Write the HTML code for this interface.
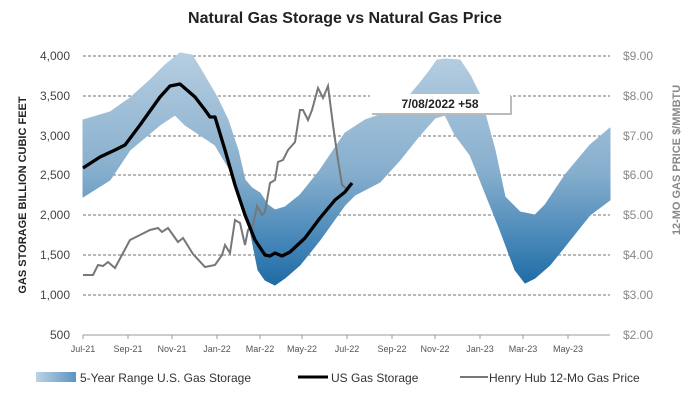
<!DOCTYPE html>
<html><head><meta charset="utf-8"><style>
body{margin:0;background:#fff;}
svg{display:block;font-family:"Liberation Sans",sans-serif;}
</style></head><body>
<svg width="691" height="400" viewBox="0 0 691 400" xmlns="http://www.w3.org/2000/svg">
<defs>
<linearGradient id="g" x1="0" y1="56" x2="0" y2="290" gradientUnits="userSpaceOnUse">
<stop offset="0" stop-color="#b5cde0"/>
<stop offset="0.5" stop-color="#86aecd"/>
<stop offset="0.78" stop-color="#4888b9"/>
<stop offset="1" stop-color="#1a68a3"/>
</linearGradient>
<linearGradient id="lg" x1="0" y1="0" x2="1" y2="0">
<stop offset="0" stop-color="#bcd3e4"/><stop offset="1" stop-color="#5a95c2"/>
</linearGradient>
</defs>
<text x="345" y="23" text-anchor="middle" font-size="16" font-weight="bold" fill="#222">Natural Gas Storage vs Natural Gas Price</text>
<g stroke="#444" stroke-dasharray="3,2" stroke-width="0.8">
<line x1="83" x2="610" y1="56" y2="56"/><line x1="83" x2="610" y1="96" y2="96"/>
<line x1="83" x2="610" y1="136" y2="136"/><line x1="83" x2="610" y1="175" y2="175"/>
<line x1="83" x2="610" y1="215" y2="215"/><line x1="83" x2="610" y1="255" y2="255"/>
<line x1="83" x2="610" y1="295" y2="295"/>
</g>
<path fill="url(#g)" stroke="url(#g)" stroke-width="1" stroke-linejoin="round" d="M83,120 L110,112 L130,98 L150,80 L165,65 L180,53 L192,55 L200,68 L210,85 L217,97 L228,120 L238,150 L245,180 L252,188 L260,193 L268,205 L275,210 L285,207 L300,195 L320,170 L345,133 L365,120 L385,113 L400,105 L410,95 L420,83 L430,70 L437,60 L445,59 L460,60 L470,75 L480,95 L495,150 L505,197 L520,212 L535,215 L545,205 L565,175 L590,145 L610,128 L610,200 L590,215 L570,240 L550,265 L535,278 L525,283 L515,270 L500,230 L480,180 L470,155 L455,135 L445,115 L435,118 L420,135 L400,160 L380,182 L355,195 L345,205 L320,240 L300,265 L285,278 L275,285 L265,280 L258,270 L250,230 L240,195 L230,170 L215,145 L200,135 L185,125 L175,115 L160,125 L130,150 L110,180 L83,197 Z"/>
<polyline fill="none" stroke="#777" stroke-width="2" points="83,275 93,275 98,265 103,266 108,262 115,268 123,253 130,240 140,235 150,230 158,228 162,232 168,228 178,242 183,238 193,254 205,267 215,265 222,255 225,245 230,253 235,220 240,223 245,245 248,230 253,225 257,206 262,215 265,212 270,183 275,180 278,162 283,160 288,150 295,142 300,110 303,110 308,120 312,110 318,88 323,98 328,86 333,125 338,160 342,185 348,190"/>
<polyline fill="none" stroke="#000" stroke-width="3.3" stroke-linejoin="round" points="83,168 100,157 115,150 125,145 140,125 160,97 170,86 180,84 195,97 205,110 210,117 215,117 225,150 235,185 245,215 255,240 265,255 270,256 275,253 282,256 290,252 305,238 320,218 335,200 345,192 352,183"/>
<line x1="83" x2="610" y1="335" y2="335" stroke="#999" stroke-width="1"/>
<g stroke="#999"><line x1="83" x2="83" y1="335" y2="339"/><line x1="128" x2="128" y1="335" y2="339"/><line x1="172" x2="172" y1="335" y2="339"/><line x1="217" x2="217" y1="335" y2="339"/><line x1="260" x2="260" y1="335" y2="339"/><line x1="302" x2="302" y1="335" y2="339"/><line x1="347" x2="347" y1="335" y2="339"/><line x1="392" x2="392" y1="335" y2="339"/><line x1="435" x2="435" y1="335" y2="339"/><line x1="480" x2="480" y1="335" y2="339"/><line x1="523" x2="523" y1="335" y2="339"/><line x1="568" x2="568" y1="335" y2="339"/></g>
<g font-size="9" fill="#555" text-anchor="middle">
<text x="83" y="352">Jul-21</text><text x="128" y="352">Sep-21</text><text x="172" y="352">Nov-21</text><text x="217" y="352">Jan-22</text><text x="260" y="352">Mar-22</text><text x="302" y="352">May-22</text><text x="347" y="352">Jul-22</text><text x="392" y="352">Sep-22</text><text x="435" y="352">Nov-22</text><text x="480" y="352">Jan-23</text><text x="523" y="352">Mar-23</text><text x="568" y="352">May-23</text>
</g>
<g font-size="12" fill="#444" text-anchor="end">
<text x="70" y="60">4,000</text><text x="70" y="100">3,500</text><text x="70" y="140">3,000</text><text x="70" y="179">2,500</text><text x="70" y="219">2,000</text><text x="70" y="259">1,500</text><text x="70" y="299">1,000</text><text x="70" y="339">500</text>
</g>
<g font-size="12" fill="#888">
<text x="623" y="60">$9.00</text><text x="623" y="100">$8.00</text><text x="623" y="140">$7.00</text><text x="623" y="179">$6.00</text><text x="623" y="219">$5.00</text><text x="623" y="259">$4.00</text><text x="623" y="299">$3.00</text><text x="623" y="339">$2.00</text>
</g>
<text transform="translate(26,195) rotate(-90)" text-anchor="middle" font-size="11" font-weight="bold" fill="#222">GAS STORAGE BILLION CUBIC FEET</text>
<text transform="translate(680,160) rotate(-90)" text-anchor="middle" font-size="11" font-weight="bold" fill="#888">12-MO GAS PRICE $/MMBTU</text>
<rect x="372" y="96" width="140" height="19" fill="#bbb"/>
<rect x="370" y="94" width="140" height="19" fill="#fff"/>
<text x="440" y="108" text-anchor="middle" font-size="12" font-weight="bold" fill="#222">7/08/2022  +58</text>
<rect x="36" y="372" width="40" height="10" fill="url(#lg)"/>
<text x="80" y="382" font-size="12" fill="#333">5-Year Range U.S. Gas Storage</text>
<line x1="298" x2="328" y1="377" y2="377" stroke="#000" stroke-width="3"/>
<text x="331" y="382" font-size="12" fill="#333">US Gas Storage</text>
<line x1="460" x2="488" y1="377" y2="377" stroke="#777" stroke-width="2"/>
<text x="489" y="382" font-size="12" fill="#333">Henry Hub 12-Mo Gas Price</text>
</svg>
</body></html>
